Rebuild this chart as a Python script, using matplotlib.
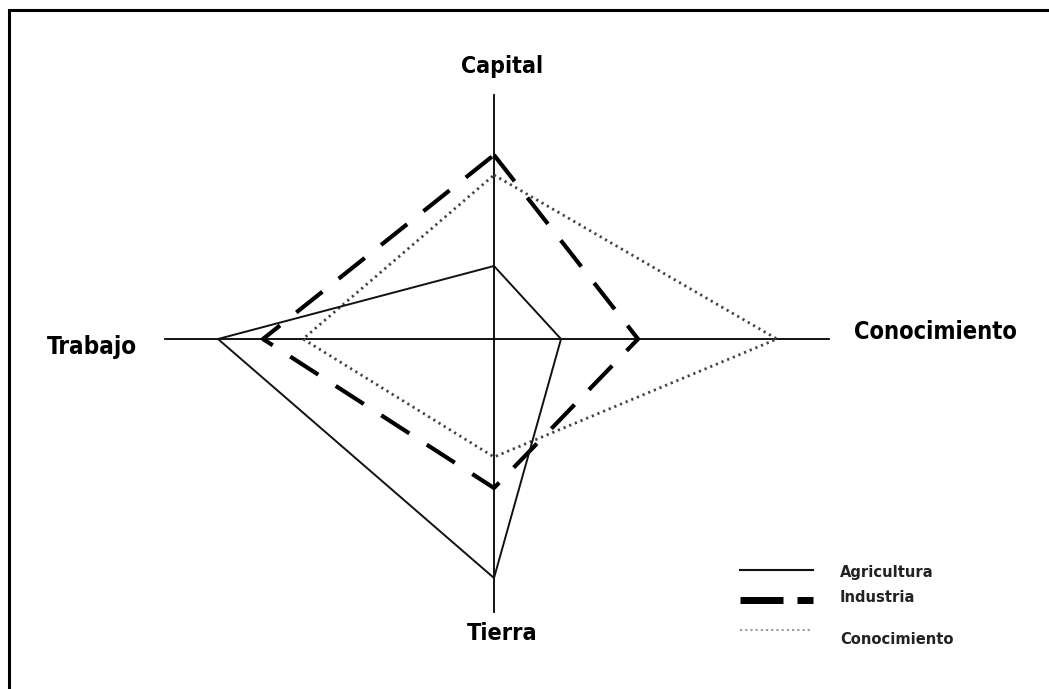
import matplotlib.pyplot as plt
from matplotlib import font_manager

# ejes del diagrama: Capital (arriba), Conocimiento (derecha), Tierra (abajo), Trabajo (izquierda)
ejes = ['Capital', 'Conocimiento', 'Tierra', 'Trabajo']
largo_ejes = [244, 335, 273, 329]

sectores = ['Agricultura', 'Industria', 'Conocimiento']
agricultura = [73, 67, 239, 276]
industria = [184, 144, 149, 231]
conocimiento = [164, 283, 118, 191]

# fuente estrecha si existe
narrow = None
for f in font_manager.fontManager.ttflist:
    if ('Narrow' in f.name or 'Condensed' in f.fname) and f.weight in (700, 'bold'):
        narrow = f.fname
        break

W, H = 1049, 689
cx, cy = 494, 339

fig = plt.figure(figsize=(W / 100, H / 100), dpi=100)
ax = fig.add_axes([0, 0, 1, 1])
ax.set_xlim(-cx, W - cx)
ax.set_ylim(-(H - cy), cy)
ax.axis('off')


def to_xy(vals):
    up, right, down, left = vals
    xs = [0, right, 0, -left, 0]
    ys = [up, 0, -down, 0, up]
    return xs, ys


# ejes
up, right, down, left = largo_ejes
ax.plot([-left, right], [0, 0], color='black', lw=1.3, zorder=1)
ax.plot([0, 0], [-down, up], color='black', lw=1.3, zorder=1)

xs, ys = to_xy(agricultura)
ax.plot(xs, ys, color='#111111', lw=1.4, solid_joinstyle='miter', zorder=3)
xs, ys = to_xy(industria)
ax.plot(xs, ys, color='black', lw=3.0, dashes=(8, 5), zorder=2)
xs, ys = to_xy(conocimiento)
ax.plot(xs, ys, color='#444444', lw=2.0, dashes=(0.8, 1.4), zorder=2)


def label(x, y, s, width, fs=20, **kw):
    if narrow:
        t = ax.text(x, y, s, fontproperties=font_manager.FontProperties(fname=narrow, size=fs),
                    **kw)
    else:
        t = ax.text(x, y, s, fontfamily='Roboto', fontweight='bold', fontsize=fs, **kw)
    r = fig.canvas.get_renderer()
    w = t.get_window_extent(r).width
    t.set_fontsize(fs * width / w)
    return t


# etiquetas de los ejes
lab = dict(ha='center', va='center')
label(8, cy - 66, ejes[0], 82, **lab)
label(441, 339 - 332, ejes[1], 164, **lab)
label(8, 339 - 634, ejes[2], 71, **lab)
label(92 - cx, 339 - 347, ejes[3], 90, **lab)

# leyenda
leg_y = [339 - 570, 339 - 600, 339 - 630]
lx0, lx1 = 740 - cx, 813 - cx
ax.plot([lx0, lx1], [leg_y[0], leg_y[0]], color='#111111', lw=1.5)
ax.plot([lx0, lx0 + 43], [leg_y[1], leg_y[1]], color='black', lw=5, solid_capstyle='butt')
ax.plot([lx0 + 57, lx1], [leg_y[1], leg_y[1]], color='black', lw=5, solid_capstyle='butt')
ax.plot([lx0, lx1 - 3], [leg_y[2], leg_y[2]], color='#999999', lw=1.5, dashes=(1, 1.5))
txt_y = [339 - 572, 339 - 598, 339 - 639]
for lbl, ty in zip(sectores, txt_y):
    ax.text(840 - cx, ty, lbl, fontfamily='DejaVu Sans', fontsize=11.8, color='#222222',
            fontweight='semibold', fontstretch='condensed', ha='left', va='center')

# marco
ax.plot([9 - cx, 9 - cx, W - cx], [-(H - cy), cy - 10, cy - 10], color='black', lw=2.2,
        solid_joinstyle='miter')

fig.savefig('out.png', dpi=100, facecolor='white')
